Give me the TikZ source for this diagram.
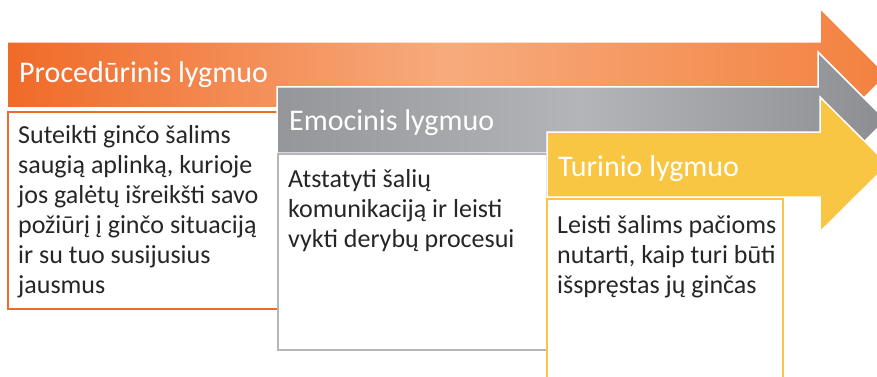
\documentclass[tikz,border=0pt]{standalone}
\usepackage{fontspec}
\setmainfont{Carlito}
\definecolor{orA}{HTML}{F06A28}
\definecolor{orB}{HTML}{F7AB7D}
\definecolor{orC}{HTML}{F3813F}
\definecolor{grA}{HTML}{95969A}
\definecolor{grB}{HTML}{B4B5B9}
\definecolor{grC}{HTML}{8D8E92}
\definecolor{yel}{HTML}{F8C642}
\definecolor{txt}{HTML}{262626}
\tikzset{
  arrowshape/.style={draw=white, line width=1.5pt, line join=miter},
  headtext/.style={anchor=base west, inner sep=0pt, text=white, font=\fontsize{30}{36}\selectfont},
  bodytext/.style={anchor=north west, inner sep=0pt, text=txt, align=left, font=\fontsize{26}{30}\selectfont},
  boxshape/.style={fill=white, line width=1.6pt},
}
\begin{document}
\begin{tikzpicture}[x=1pt,y=-1pt]
\useasboundingbox (0,0) rectangle (877,377);
\clip (0,0) rectangle (877,377);
% orange arrow
\path[arrowshape, left color=orA, right color=orC, middle color=orB]
  (7,42) -- (820,42) -- (820,8) -- (887,75) -- (820,142) -- (820,108) -- (7,108) -- cycle;
\node[headtext] (h1) at (19,83) {Procedūrinis lygmuo};
\draw[boxshape, draw=orA] (8,112) rectangle (278,309);
\node[bodytext] (b1) at (18,122) {\strut Suteikti ginčo šalims\\saugią aplinką, kurioje\\jos galėtų išreikšti savo\\požiūrį į ginčo situaciją\\ir su tuo susijusius\\jausmus};
% gray arrow
\path[arrowshape, left color=grA, right color=grC, middle color=grB]
  (277,87) -- (818,87) -- (818,52) -- (886,120) -- (818,188) -- (818,153) -- (277,153) -- cycle;
\node[headtext] (h2) at (289,131) {Emocinis lygmuo};
\draw[boxshape, draw=grB] (278,154) rectangle (547,350);
\node[bodytext] (b2) at (288,166) {\strut Atstatyti šalių\\komunikaciją ir leisti\\vykti derybų procesui};
% yellow arrow
\path[arrowshape, fill=yel]
  (547,132) -- (820,132) -- (820,97) -- (888,164.5) -- (820,232) -- (820,197) -- (547,197) -- cycle;
\node[headtext] (h3) at (558,176) {Turinio lygmuo};
\draw[boxshape, draw=yel] (547,199) rectangle (783,392);
\node[bodytext] (b3) at (557,212) {\strut Leisti šalims pačioms\\nutarti, kaip turi būti\\išspręstas jų ginčas};
\end{tikzpicture}
\end{document}
